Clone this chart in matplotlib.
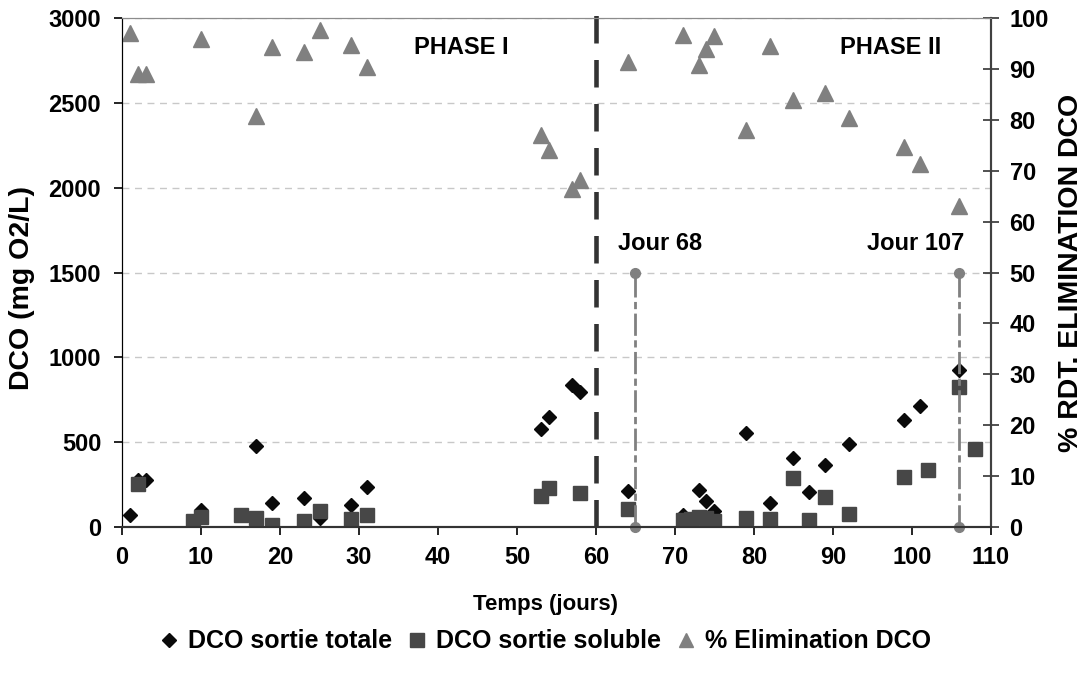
import numpy as np
import matplotlib
matplotlib.use("Agg")
import matplotlib.pyplot as plt
from matplotlib.lines import Line2D

plt.rcParams['font.family'] = ['Liberation Sans', 'DejaVu Sans']
plt.rcParams['font.weight'] = 'bold'

# DCO sortie totale (mg O2/L)
jours_totale = [1, 2, 3, 10, 17, 19, 23, 25, 29, 31, 53, 54, 57, 58, 64,
                71, 73, 74, 75, 79, 82, 85, 87, 89, 92, 99, 101, 106]
dco_totale = [70, 277, 277, 100, 479, 143, 169, 51, 130, 238, 576, 650, 837, 797, 214,
              70, 220, 153, 95, 552, 140, 405, 204, 365, 489, 630, 713, 925]

# DCO sortie soluble (mg O2/L)
jours_soluble = [2, 9, 10, 15, 17, 19, 23, 25, 29, 31, 53, 54, 58, 64,
                 71, 72, 73, 74, 75, 79, 82, 85, 87, 89, 92, 99, 102, 106, 108]
dco_soluble = [253, 37, 61, 71, 51, 12, 37, 94, 49, 71, 185, 228, 198, 106,
               41, 45, 60, 55, 35, 51, 47, 291, 41, 179, 77, 297, 336, 827, 460]

# % elimination DCO
jours_elim = [1, 2, 3, 10, 17, 19, 23, 25, 29, 31, 53, 54, 57, 58, 64,
              71, 73, 74, 75, 79, 82, 85, 89, 92, 99, 101, 106]
elim = [97, 89, 89, 96, 80.7, 94.4, 93.4, 97.6, 94.8, 90.4, 77, 74.1, 66.5, 68.2, 91.4,
        96.7, 90.8, 93.9, 96.5, 78, 94.5, 83.9, 85.3, 80.3, 74.7, 71.4, 63]

# reperes (jour 68 et jour 107)
jours_repere = [65, 106]
repere_bas, repere_haut = 0, 50
labels_repere = ["Jour 68", "Jour 107"]
jour_phase = 60

fig = plt.figure(figsize=(10.9, 6.73), dpi=100)
ax1 = fig.add_axes([0.112, 0.217, 0.797, 0.756])
ax2 = ax1.twinx()

ax1.plot(jours_totale, dco_totale, 'D', color='#0a0a0a', ms=7.6, mec='#0a0a0a', zorder=3)
ax1.plot(jours_soluble, dco_soluble, 's', color='#474747', ms=10.5, mec='#474747', zorder=4)
ax1.axvline(jour_phase, ymin=0, ymax=1.015, color='#333333', lw=3.3,
            ls=(0, (6, 3.6)), clip_on=False, zorder=5)

ax2.plot(jours_elim, elim, '^', color='#808080', ms=11, mec='#808080')
for j in jours_repere:
    ax2.plot([j, j], [repere_bas, repere_haut], color='#808080', lw=2,
             ls=(0, (8, 1.6, 2.6, 1.6)), marker='o', ms=7, clip_on=False)

ax1.set_xlim(0, 110)
ax1.set_ylim(0, 3000)
ax2.set_ylim(0, 100)
ax1.set_xticks(np.arange(0, 111, 10))
ax1.set_yticks(np.arange(0, 3001, 500))
ax2.set_yticks(np.arange(0, 101, 10))

ax1.grid(axis='y', ls=(0, (5, 4)), color='#c8c8c8', lw=1)
ax1.set_axisbelow(True)

ax1.tick_params(axis='x', direction='out', length=6, width=1.2, labelsize=17, pad=8)
ax1.tick_params(axis='y', direction='out', length=6, width=1.2, labelsize=17, pad=9)
ax2.tick_params(axis='y', direction='inout', length=11, width=1.2, labelsize=17,
                colors='#333333', labelcolor='black', pad=8)

for ax in (ax1, ax2):
    ax.spines['top'].set_color('#8c8c8c')
    ax.spines['left'].set_color('black')
    ax.spines['bottom'].set_color('#333333')
    ax.spines['right'].set_color('#404040')
    ax.spines['bottom'].set_linewidth(1.5)
    ax.spines['right'].set_linewidth(1.5)

ax1.set_xlabel("Temps (jours)", fontsize=16, fontweight='bold')
ax1.xaxis.set_label_coords(0.487, -0.132)
ax1.set_ylabel("DCO (mg O2/L)", fontsize=20.5, fontweight='bold')
ax1.yaxis.set_label_coords(-0.1, 0.47)
ax2.set_ylabel("% RDT. ELIMINATION DCO", fontsize=20.5, fontweight='bold')
ax2.yaxis.set_label_coords(1.077, 0.5)

ax1.text(42.9, 2828, "PHASE I", fontsize=17, fontweight='bold', ha='center', va='center')
ax1.text(97.3, 2828, "PHASE II", fontsize=17, fontweight='bold', ha='center', va='center')
ax1.text(68.1, 1673, labels_repere[0], fontsize=17, fontweight='bold', ha='center', va='center')
ax1.text(100.5, 1673, labels_repere[1], fontsize=17, fontweight='bold', ha='center', va='center')

handles = [
    Line2D([], [], ls='', marker='D', color='#0a0a0a', ms=7),
    Line2D([], [], ls='', marker='s', color='#474747', ms=10),
    Line2D([], [], ls='', marker='^', color='#808080', ms=10),
]
fig.legend(handles, ["DCO sortie totale", "DCO sortie soluble", "% Elimination DCO"],
           loc='center', bbox_to_anchor=(0.5, 0.047), ncol=3, frameon=False,
           fontsize=18, handlelength=0.8, handletextpad=0.35, columnspacing=0.6)

fig.savefig("out.png", dpi=100)
